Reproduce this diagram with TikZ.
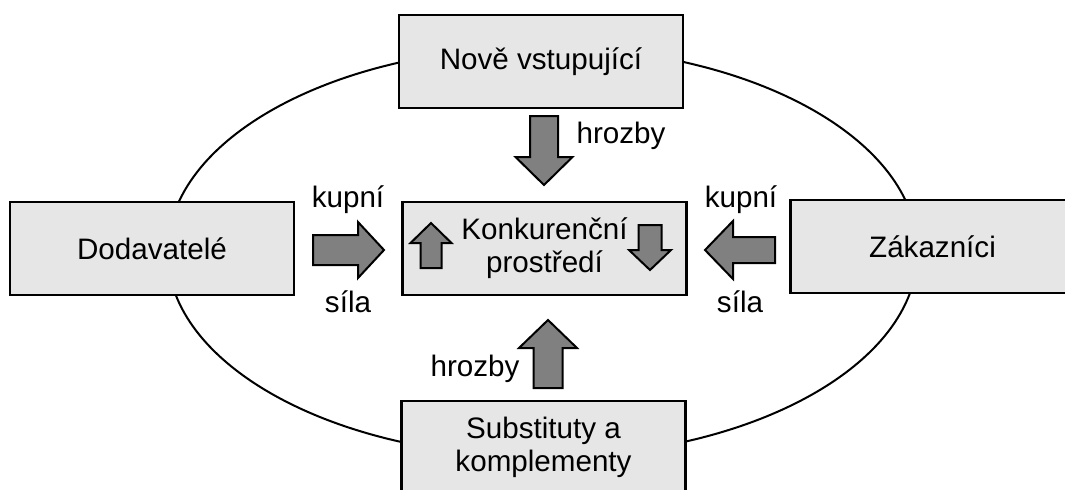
\documentclass[tikz,border=0pt]{standalone}
\usepackage{fontspec}
\setmainfont{Liberation Sans}
\usepackage{tikz}
\usetikzlibrary{positioning}
\definecolor{BoxGray}{RGB}{230,230,230}
\definecolor{ArrowGray}{RGB}{128,128,128}
\tikzset{
  forcebox/.style={draw,line width=1.3pt,fill=BoxGray,minimum width=142pt,
    minimum height=46.5pt,align=center,inner sep=0pt},
  arrowbody/.style={draw,line width=1pt,fill=ArrowGray,line join=miter},
  tag/.style={inner sep=0pt}
}
% tail x, tail y, angle, length, shaft half width, head half width, head length
\newcommand{\blockarrow}[7]{%
  \draw[arrowbody,shift={(#1,#2)},rotate=#3] (0,-#5)--(#4-#7,-#5)--(#4-#7,-#6)
    --(#4,0)--(#4-#7,#6)--(#4-#7,#5)--(0,#5)--cycle;}

\begin{document}
\begin{tikzpicture}[x=0.5pt,y=-0.5pt,font=\fontsize{14.8}{16.5}\selectfont]
  \clip (0,0) rectangle (1065,489);
  \draw[line width=1pt] (542.5,252) ellipse [x radius=375, y radius=205];
  % the five forces
  \node[forcebox] (entrants) at (541,61.5) {Nově vstupující};
  \node[forcebox] (suppliers) at (152,248.5) {Dodavatelé};
  \node[forcebox] (rivalry) at (544.5,248.5) {Konkurenční\\prostředí};
  \node[forcebox] (buyers) at (932.5,246.5) {Zákazníci};
  \node[forcebox] (substitutes) at (543.5,447.5) {Substituty a\\komplementy};
  % block arrows
  \blockarrow{544}{116}{-90}{69}{14}{28.5}{28}
  \blockarrow{548}{388}{90}{68}{14.5}{29}{28}
  \blockarrow{313}{250}{0}{71}{15}{28}{26}
  \blockarrow{775}{250}{180}{70}{13}{29}{28}
  \blockarrow{431}{268}{90}{45}{10.5}{20.5}{20}
  \blockarrow{650}{225}{-90}{45}{11.5}{21}{20}
  % labels
  \node[tag] (threatin) at (621,136) {hrozby};
  \node[tag] (threatsub) at (475,369) {hrozby};
  \node[tag] (powersupA) at (348,200) {kupní};
  \node[tag] (powersupB) at (348,302) {síla};
  \node[tag] (powerbuyA) at (741,200) {kupní};
  \node[tag] (powerbuyB) at (740,302) {síla};
\end{tikzpicture}
\end{document}
